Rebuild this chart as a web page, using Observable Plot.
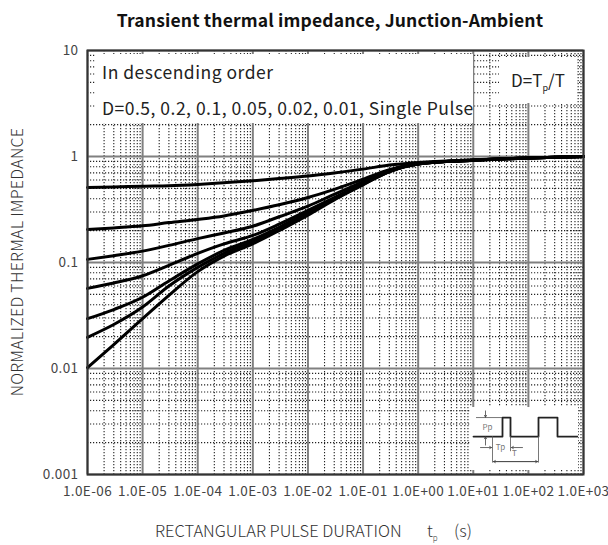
<!DOCTYPE html>
<html><head><meta charset="utf-8">
<script src="https://cdn.jsdelivr.net/npm/d3@7"></script>
<script src="https://cdn.jsdelivr.net/npm/@observablehq/plot@0.6"></script>
<style>
body{margin:0;background:#fff;}
#wrap{position:relative;width:608px;height:545px;font-family:"Noto Sans CJK SC","Noto Sans",sans-serif;overflow:hidden;}
#title{position:absolute;left:80px;top:0;width:500px;height:40px;line-height:40px;text-align:center;font-weight:bold;font-size:17.5px;letter-spacing:0.15px;color:#111;}
#chart{position:absolute;left:0;top:40px;}
#ylab{position:absolute;left:16px;top:262px;transform:translate(-50%,-50%) rotate(-90deg);white-space:nowrap;font-size:16px;letter-spacing:0.3px;font-weight:300;color:#333;}
.xl{position:absolute;top:518px;white-space:nowrap;font-size:16.5px;font-weight:300;color:#333;}
.xl sub{font-size:8px;}
.box{position:absolute;background:#fff;color:#222;white-space:nowrap;}
#leg1{left:95px;top:54px;width:378px;height:69px;font-size:17.5px;letter-spacing:0.5px;}
#leg2{left:499px;top:57px;width:78px;height:46px;font-size:17px;text-align:center;line-height:46px;}
#leg2 sub{font-size:9px;}
#inset{position:absolute;left:470px;top:407px;}
</style></head><body>
<div id="wrap">
  <div id="title">Transient thermal impedance, Junction-Ambient</div>
  <div id="chart"></div>
  <div id="ylab">NORMALIZED THERMAL IMPEDANCE</div>
  <div class="xl" style="left:155px;">RECTANGULAR PULSE DURATION</div>
  <div class="xl" style="left:427px;">t<sub>p</sub></div>
  <div class="xl" style="left:454px;">(s)</div>
  <div class="box" id="leg1">
    <div style="position:absolute;left:7px;top:5px;">In descending order</div>
    <div style="position:absolute;left:7px;top:41px;">D=0.5, 0.2, 0.1, 0.05, 0.02, 0.01, Single Pulse</div>
  </div>
  <div class="box" id="leg2">D=T<sub>p</sub>/T</div>
  <div id="inset"></div>
</div>
<script>
// Pulse durations (s)
const tp = [1e-6, 3e-6, 1e-5, 3e-5, 1e-4, 3e-4, 1e-3, 3e-3, 1e-2, 3e-2, 1e-1, 3e-1, 1, 10, 100, 1000];
// Normalized thermal impedance per duty cycle
const zD050 = [0.51, 0.515, 0.525, 0.53, 0.545, 0.565, 0.59, 0.62, 0.655, 0.70, 0.76, 0.83, 0.88, 0.93, 0.97, 1.0];
const zD020 = [0.205, 0.212, 0.222, 0.238, 0.255, 0.275, 0.31, 0.35, 0.41, 0.49, 0.61, 0.75, 0.86, 0.92, 0.97, 1.0];
const zD010 = [0.107, 0.116, 0.128, 0.145, 0.168, 0.19, 0.22, 0.27, 0.34, 0.44, 0.58, 0.74, 0.855, 0.92, 0.97, 1.0];
const zD005 = [0.057, 0.064, 0.075, 0.094, 0.122, 0.15, 0.18, 0.23, 0.31, 0.41, 0.56, 0.73, 0.85, 0.92, 0.97, 1.0];
const zD002 = [0.0295, 0.036, 0.047, 0.067, 0.097, 0.13, 0.165, 0.215, 0.295, 0.40, 0.55, 0.72, 0.85, 0.92, 0.97, 1.0];
const zD001 = [0.0197, 0.026, 0.038, 0.060, 0.09, 0.122, 0.158, 0.21, 0.29, 0.395, 0.545, 0.72, 0.85, 0.92, 0.97, 1.0];
const zSingle = [0.0102, 0.0168, 0.0295, 0.049, 0.082, 0.115, 0.15, 0.2, 0.28, 0.39, 0.54, 0.72, 0.85, 0.92, 0.97, 1.0];
const seriesNames = ["D=0.5", "D=0.2", "D=0.1", "D=0.05", "D=0.02", "D=0.01", "Single Pulse"];
const seriesValues = [zD050, zD020, zD010, zD005, zD002, zD001, zSingle];

// Ticks
const xTicks = [1e-6, 1e-5, 1e-4, 1e-3, 1e-2, 1e-1, 1, 10, 100, 1000];
const xTickLabels = ["1.0E-06", "1.0E-05", "1.0E-04", "1.0E-03", "1.0E-02", "1.0E-01", "1.0E+00", "1.0E+01", "1.0E+02", "1.0E+03"];
const yTicks = [0.001, 0.01, 0.1, 1, 10];
const yTickLabels = ["0.001", "0.01", "0.1", "1", "10"];

// Inset waveform (schematic units)
const waveX = [0, 29, 29, 37, 37, 65, 65, 84, 84, 104];
const waveY = [0, 0, 1, 1, 0, 0, 1, 1, 0, 0];

const rows = seriesNames.flatMap((name, i) => tp.map((t, j) => ({t, z: seriesValues[i][j], name})));
const minorX = d3.range(-6, 3).flatMap(e => d3.range(2, 10).map(m => m * Math.pow(10, e)));
const minorY = d3.range(-3, 1).flatMap(e => d3.range(2, 10).map(m => m * Math.pow(10, e)));

const chart = Plot.plot({
  width: 608, height: 505,
  marginLeft: 87, marginRight: 25, marginTop: 10, marginBottom: 71,
  x: {type: "log", domain: [1e-6, 1e3]},
  y: {type: "log", domain: [1e-3, 10]},
  style: {fontFamily: '"Noto Sans CJK SC","Noto Sans",sans-serif', fontSize: "13.5px", letterSpacing: "0.4px", color: "#444", background: "#fff"},
  marks: [
    Plot.ruleX(minorX, {stroke: "#222", strokeWidth: 1.1, strokeDasharray: "1.2,1.8"}),
    Plot.ruleY(minorY, {stroke: "#222", strokeWidth: 1.1, strokeDasharray: "1.2,1.8"}),
    Plot.ruleX(xTicks, {stroke: "#808080", strokeWidth: 2}),
    Plot.ruleY(yTicks, {stroke: "#808080", strokeWidth: 2}),
    Plot.line(rows, {x: "t", y: "z", z: "name", stroke: "#000", strokeWidth: 3, curve: "monotone-x"}),
    Plot.frame({stroke: "#333", strokeWidth: 2}),
    Plot.axisX({ticks: xTicks, tickFormat: d => xTickLabels[xTicks.indexOf(d)], tickSize: 0, tickPadding: 12, label: null}),
    Plot.axisY({ticks: yTicks, tickFormat: d => yTickLabels[yTicks.indexOf(d)], tickSize: 0, tickPadding: 9, label: null})
  ]
});
document.getElementById("chart").append(chart);

const inset = Plot.plot({
  width: 108, height: 63,
  margin: 0,
  x: {domain: [-3, 105], axis: null},
  y: {domain: [-1.79, 1.53], axis: null},
  style: {background: "#fff", fontFamily: '"Noto Sans CJK SC",sans-serif'},
  marks: [
    Plot.line(waveX.map((x, i) => ({x, y: waveY[i]})), {x: "x", y: "y", stroke: "#222", strokeWidth: 1.8}),
    Plot.ruleY([1], {x1: 3, x2: 29, stroke: "#555", strokeWidth: 0.8}),
    Plot.ruleX([19], {y1: 0, y2: -1.4, stroke: "#555", strokeWidth: 0.8}),
    Plot.ruleX([37], {y1: 0, y2: -0.8, stroke: "#555", strokeWidth: 0.8}),
    Plot.ruleX([65], {y1: 0, y2: -1.4, stroke: "#555", strokeWidth: 0.8}),
    Plot.arrow([{x1: 12, y1: 1.35, x2: 12, y2: 1.02}], {x1: "x1", y1: "y1", x2: "x2", y2: "y2", stroke: "#444", strokeWidth: 0.8, headLength: 4}),
    Plot.arrow([{x1: 12, y1: -0.45, x2: 12, y2: -0.02}], {x1: "x1", y1: "y1", x2: "x2", y2: "y2", stroke: "#444", strokeWidth: 0.8, headLength: 4}),
    Plot.arrow([{x1: 7, y1: -0.58, x2: 18, y2: -0.58}], {x1: "x1", y1: "y1", x2: "x2", y2: "y2", stroke: "#444", strokeWidth: 0.8, headLength: 4}),
    Plot.arrow([{x1: 49, y1: -0.58, x2: 38, y2: -0.58}], {x1: "x1", y1: "y1", x2: "x2", y2: "y2", stroke: "#444", strokeWidth: 0.8, headLength: 4}),
    Plot.arrow([{x1: 20, y1: -1.32, x2: 64, y2: -1.32}], {x1: "x1", y1: "y1", x2: "x2", y2: "y2", stroke: "#444", strokeWidth: 0.8, headLength: 4}),
    Plot.arrow([{x1: 64, y1: -1.32, x2: 20, y2: -1.32}], {x1: "x1", y1: "y1", x2: "x2", y2: "y2", stroke: "#444", strokeWidth: 0.8, headLength: 4}),
    Plot.text([{x: 14, y: 0.5, s: "Pp"}], {x: "x", y: "y", text: "s", fontSize: 8, fill: "#777"}),
    Plot.text([{x: 27, y: -0.55, s: "Tp"}], {x: "x", y: "y", text: "s", fontSize: 8, fill: "#777"}),
    Plot.text([{x: 41, y: -0.9, s: "T"}], {x: "x", y: "y", text: "s", fontSize: 8, fill: "#777"})
  ]
});
document.getElementById("inset").append(inset);
</script>
</body></html>
